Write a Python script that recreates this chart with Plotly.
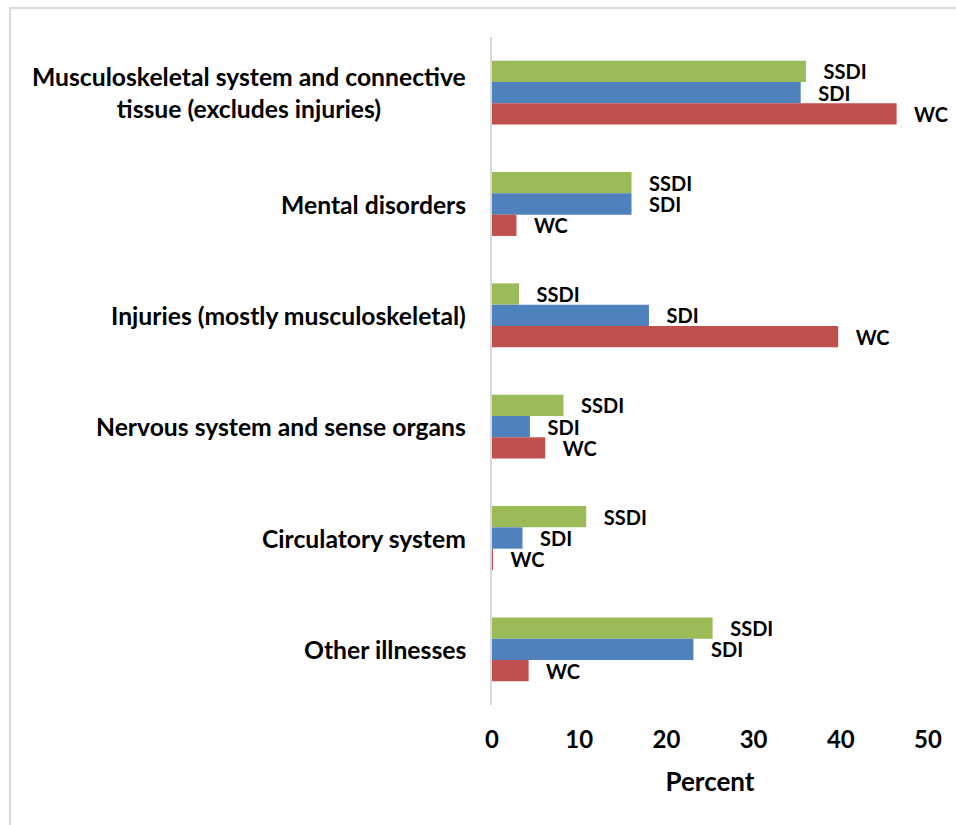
import plotly.graph_objects as go

categories = [
    "Musculoskeletal system and connective<br>tissue (excludes injuries)",
    "Mental disorders",
    "Injuries (mostly musculoskeletal)",
    "Nervous system and sense organs",
    "Circulatory system",
    "Other illnesses",
]
ssdi = [36.0, 16.0, 3.1, 8.2, 10.8, 25.3]
sdi = [35.4, 16.0, 18.0, 4.35, 3.5, 23.1]
wc = [46.4, 2.8, 39.7, 6.1, 0.05, 4.2]
series_names = ["SSDI", "SDI", "WC"]
series_colors = ["#9BBB59", "#4F81BD", "#C0504D"]
x_ticks = [0, 10, 20, 30, 40, 50]

FONT = "Lato"
PAD = "\u00a0\u00a0\u00a0"

fig = go.Figure()
for name, vals, col in zip(series_names, [ssdi, sdi, wc], series_colors):
    fig.add_trace(go.Bar(
        y=categories, x=vals, orientation="h", name=name,
        marker=dict(color=col, line=dict(width=0)),
        text=[PAD + name] * len(vals), textposition="outside",
        textfont=dict(family=FONT, size=20, color="black", weight="bold"),
        constraintext="none", cliponaxis=False,
    ))

for c in categories:
    fig.add_annotation(
        x=0, xref="paper", y=c, yref="y", xanchor="right", yanchor="middle",
        xshift=-24, text=c, showarrow=False, align="center",
        font=dict(family=FONT, size=24.7, color="black", weight="bold"),
    )

fig.update_layout(
    width=956, height=825,
    margin=dict(l=492, r=28, t=37, b=120),
    paper_bgcolor="white", plot_bgcolor="white",
    barmode="group", bargap=0.426, bargroupgap=0,
    showlegend=False,
    font=dict(family=FONT, color="black"),
    xaxis=dict(
        range=[0, 50], tickvals=x_ticks, showgrid=False, zeroline=False,
        showline=False, ticks="", ticklabelstandoff=18,
        tickfont=dict(family=FONT, size=24, color="black", weight="bold"),
        title=dict(text="Percent", standoff=20,
                   font=dict(family=FONT, size=26, color="black", weight="bold")),
    ),
    yaxis=dict(
        autorange="reversed", showticklabels=False, showgrid=False,
        zeroline=False, showline=True, linecolor="#D9D9D9", linewidth=2, ticks="",
    ),
    shapes=[dict(type="rect", xref="paper", yref="paper",
                 x0=(10 - 492) / 436, x1=1.2, y0=-0.2, y1=(705 - 8) / 668,
                 line=dict(color="#D9D9D9", width=2), fillcolor="rgba(0,0,0,0)",
                 layer="below")],
)

fig.write_html("out.html")
